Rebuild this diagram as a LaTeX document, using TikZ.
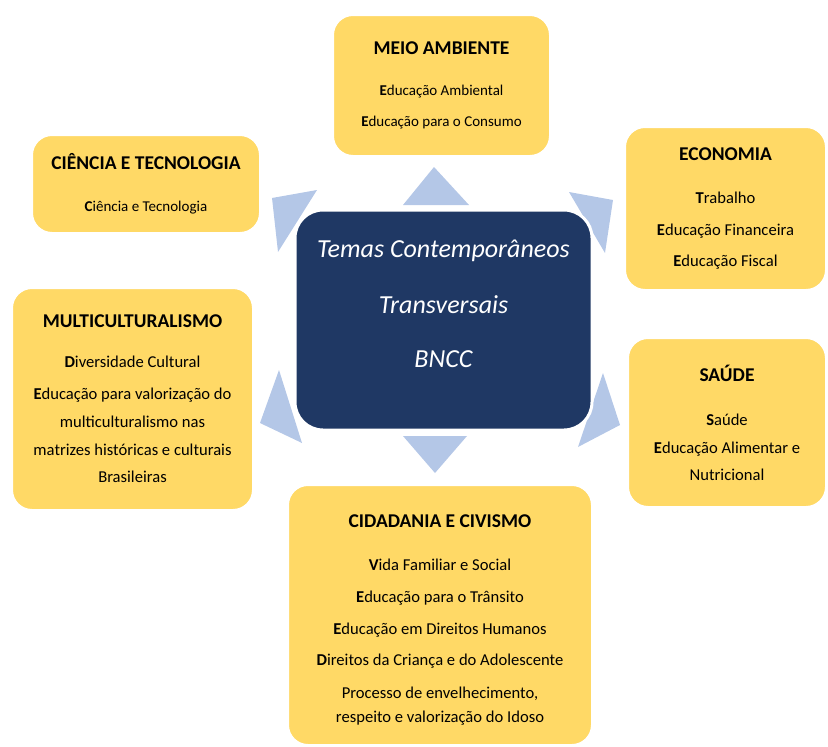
\documentclass[tikz,border=0pt]{standalone}
\usepackage{fontspec}
\setmainfont{Carlito}
\definecolor{amarelo}{RGB}{255,217,102}
\definecolor{marinho}{RGB}{31,56,100}
\definecolor{azulclaro}{RGB}{180,199,231}
\newcommand{\titulo}[1]{{\fontsize{19.5}{24}\selectfont\bfseries #1}}
\tikzset{
  tema/.style={fill=amarelo, draw=white, line width=2pt, rounded corners=20pt,
    align=center, inner sep=0pt, font=\fontsize{15}{24}\selectfont},
  grande/.style={font=\fontsize{16.6}{25}\selectfont},
  texto/.style={align=center, inner sep=0pt},
  centro/.style={fill=marinho, draw=white, line width=3pt, rounded corners=28pt},
  centrotexto/.style={text=white, align=center, font=\fontsize{26}{30}\selectfont\itshape},
  seta/.style={fill=azulclaro}
}
\begin{document}
\begin{tikzpicture}[x=1pt,y=-1pt]
      \useasboundingbox (0,0) rectangle (828,747);
      \coordinate (T1) at (434,167);
      \coordinate (T2) at (272,198);
      \coordinate (T3) at (613,200);
      \coordinate (T4) at (260,423);
      \coordinate (T5) at (620,425);
      \coordinate (T6) at (435,473);
      \fill[seta] (T1) -- (403,205) -- (469,205) -- cycle;
      \fill[seta] (T2) -- (317,190) -- (278,252) -- cycle;
      \fill[seta] (T3) -- (569,192) -- (605,253) -- cycle;
      \fill[seta] (T4) -- (279,370) -- (302,443) -- cycle;
      \fill[seta] (T5) -- (603,373) -- (578,447) -- cycle;
      \fill[seta] (T6) -- (403,436) -- (467,436) -- cycle;
      \node[centro, minimum width=297, minimum height=220] (bncc) at (443.5,320) {};
      \node[centrotexto, yshift=16pt] (bnccTexto) at (bncc.center)
        {Temas Contemporâneos\\[26pt] Transversais\\[24pt] BNCC};
      \node[tema, minimum width=217, minimum height=141] (meio) at (441.5,85.5)
        {\titulo{MEIO AMBIENTE}\\[17pt] \textbf{E}ducação Ambiental\\[7pt]
         \textbf{E}ducação para o Consumo};
      \node[tema, minimum width=228, minimum height=98] (ciencia) at (146,184)
        {\titulo{CIÊNCIA E TECNOLOGIA}\\[18pt] \textbf{C}iência e Tecnologia};
      \node[tema, grande, minimum width=201, minimum height=163] (economia) at (725.5,208.5)
        {\titulo{ECONOMIA}\\[18pt] \textbf{T}rabalho\\[7pt]
         \textbf{E}ducação Financeira\\[6pt] \textbf{E}ducação Fiscal};
      \node[tema, grande, minimum width=241, minimum height=222] (multi) at (132.5,399)
        {\titulo{MULTICULTURALISMO}\\[15pt] \textbf{D}iversidade Cultural\\[7pt]
         \textbf{E}ducação para valorização do\\[3pt] multiculturalismo nas\\[3pt]
         matrizes históricas e culturais\\[2pt] Brasileiras};
      \node[tema, grande, minimum width=198, minimum height=169] (saude) at (727,422.5)
        {\titulo{SAÚDE}\\[19pt] \textbf{S}aúde\\[3pt]
         \textbf{E}ducação Alimentar e\\[2pt] Nutricional};
      \node[tema, minimum width=304, minimum height=260] (cidadania) at (440,615) {};
      \node[texto, grande, yshift=-5pt] (cidadaniaTexto) at (cidadania.center)
        {\titulo{CIDADANIA E CIVISMO}\\[18pt] \textbf{V}ida Familiar e Social\\[7pt]
         \textbf{E}ducação para o Trânsito\\[7pt]
         \textbf{E}ducação em Direitos Humanos\\[6pt]
         \textbf{D}ireitos da Criança e do Adolescente\\[8pt]
         Processo de envelhecimento,\\[-1pt] respeito e valorização do Idoso};
\end{tikzpicture}
\end{document}
